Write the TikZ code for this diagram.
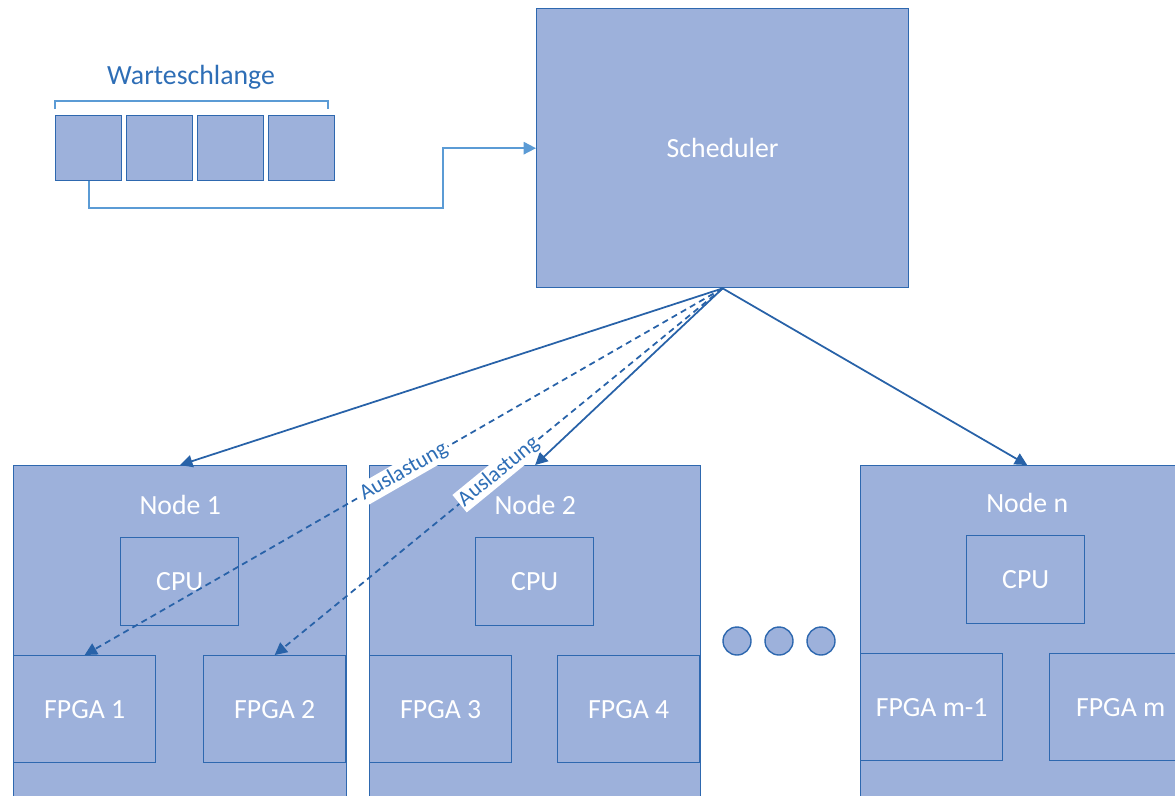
\documentclass[tikz,border=0pt]{standalone}
\usepackage{fontspec}
\setmainfont{Carlito}
\usetikzlibrary{arrows.meta, positioning}

\definecolor{boxfill}{RGB}{157,177,219}
\definecolor{boxline}{RGB}{46,104,175}
\definecolor{linkblue}{RGB}{40,98,168}
\definecolor{queueblue}{RGB}{91,155,213}
\definecolor{textblue}{RGB}{46,110,182}

\begin{document}
\begin{tikzpicture}
[x=0.02cm, y=-0.02cm, font=\fontsize{15.8}{18}\selectfont,
every node/.style={inner sep=0 pt},
box/.style={draw=boxline, fill=boxfill, line width=0.8pt, text=white, anchor=north west},
dot/.style={draw=boxline, fill=boxfill, line width=0.8pt, circle, minimum size=0.56cm},
link/.style={draw=linkblue, line width=1pt, -{Triangle[length=7pt, width=7pt]}},
qlink/.style={draw=queueblue, line width=1pt, -{Triangle[length=7pt, width=7pt]}},
load/.style={sloped, pos=0.5, fill=white, text=textblue, inner sep=1pt, font=\fontsize{12.5}{14}\selectfont}
]

\useasboundingbox (0,0) rectangle (1175,795);
\clip (0,0) rectangle (1175,795);

% scheduler and queue
\node[box, minimum width=7.44cm, minimum height=5.58cm] (sched) at (536,8) {Scheduler};

\foreach \x in {1,...,4}
{\node[box, minimum width=1.32cm, minimum height=1.30cm] (q\x) at ({55+71*(\x-1)},115) {};}

\draw[queueblue, line width=0.8pt] (55,109) -- (55,101) -- (328,101) -- (328,109);
\node[text=textblue] (qtitle) at (191,77) {Warteschlange};

% compute nodes
\node[box, minimum width=6.66cm, minimum height=8cm] (node1) at (13,465) {};
\node[box, minimum width=6.62cm, minimum height=8cm] (node2) at (369,465) {};
\node[box, minimum width=6.66cm, minimum height=8cm] (noden) at (860,465) {};

\node[text=white] (title1) at ([yshift=-0.8cm]node1.north) {Node 1};
\node[text=white] (title2) at ([yshift=-0.8cm]node2.north) {Node 2};
\node[text=white] (titlen) at ([yshift=-0.76cm]noden.north) {Node n};

\node[box, minimum width=2.36cm, minimum height=1.76cm] (cpu1) at (120,537) {CPU};
\node[box, minimum width=2.36cm, minimum height=1.76cm] (cpu2) at (475,537) {CPU};
\node[box, minimum width=2.36cm, minimum height=1.76cm] (cpun) at (966,535) {CPU};

\begin{scope}[every node/.append style={minimum width=2.84cm, minimum height=2.14cm}]
\node[box] (fpga1) at (13,655) {FPGA 1};
\node[box] (fpga2) at (203,655) {FPGA 2};
\node[box] (fpga3) at (369,655) {FPGA 3};
\node[box] (fpga4) at (557,655) {FPGA 4};
\node[box] (fpgam1) at (860,653) {FPGA m-1};
\node[box] (fpgam) at (1049,653) {FPGA m};
\end{scope}

\node[dot] (dot1) at (737,641) {};
\node[dot] (dot2) at (779,641) {};
\node[dot] (dot3) at (821,641) {};

% connections
\coordinate (qbend) at (443,208);
\draw[qlink] (q1.south) |- (qbend) |- (sched.west);

\draw[link] (sched.south) -- (node1.north);
\draw[link] (sched.south) -- (node2.north);
\draw[link] (sched.south) -- (noden.north);

\draw[link, dash pattern=on 3.5pt off 2.5pt] (sched.south) -- node[load] (load1) {Auslastung} (fpga1.north);
\draw[link, dash pattern=on 3.5pt off 2.5pt] (sched.south) -- node[load] (load2) {Auslastung} (fpga2.north);

\end{tikzpicture}
\end{document}
